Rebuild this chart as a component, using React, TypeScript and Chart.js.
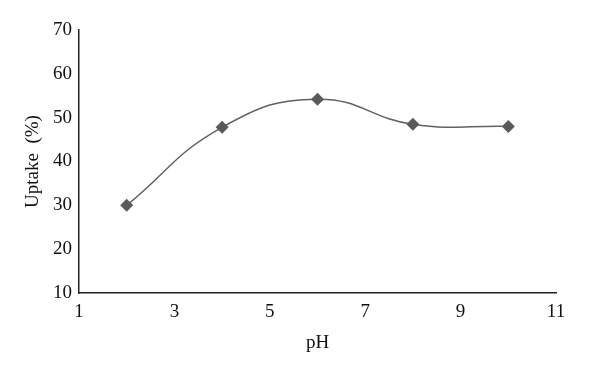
import React, { useEffect, useRef } from "react";
import { Chart, registerables } from "chart.js";

Chart.register(...registerables);

const phValues = [2, 4, 6, 8, 10];
const uptakeValues = [30, 47.8, 54.2, 48.5, 48];
const xTicks = [1, 3, 5, 7, 9, 11];
const yTicks = [10, 20, 30, 40, 50, 60, 70];

export default function App() {
  const ref = useRef<HTMLCanvasElement | null>(null);
  useEffect(() => {
    document.body.style.margin = "0";
    const ctx = ref.current!.getContext("2d")!;
    const font = { family: "'Liberation Serif', 'Times New Roman', serif", size: 19 };
    const chart = new Chart(ctx, {
      type: "scatter",
      data: {
        datasets: [
          {
            data: phValues.map((x, i) => ({ x, y: uptakeValues[i] })),
            showLine: true,
            borderColor: "#616161",
            borderWidth: 1.5,
            tension: 0.45,
            pointStyle: "rectRot",
            pointRadius: 6.5,
            pointHoverRadius: 6.5,
            pointBackgroundColor: "#5a5a5a",
            pointBorderColor: "#5a5a5a",
            pointBorderWidth: 0,
          },
        ],
      },
      options: {
        animation: false,
        responsive: false,
        maintainAspectRatio: false,
        layout: { padding: { top: 30, right: 44, left: 0, bottom: 0 } },
        plugins: { legend: { display: false }, tooltip: { enabled: false } },
        scales: {
          x: {
            type: "linear",
            min: 1,
            max: 11,
            afterBuildTicks: (s: any) => {
              s.ticks = xTicks.map((v) => ({ value: v }));
            },
            afterFit: (s: any) => {
              s.height = 375 - 293;
            },
            grid: { display: false, drawTicks: false },
            border: { display: true, color: "#222", width: 1.5 },
            ticks: { color: "#111", font, padding: 8, maxRotation: 0 },
            title: {
              display: true,
              text: "pH",
              color: "#111",
              font: { ...font, size: 19 },
              padding: { top: 0, bottom: 21 },
            },
          },
          y: {
            type: "linear",
            min: 10,
            max: 70,
            afterBuildTicks: (s: any) => {
              s.ticks = yTicks.map((v) => ({ value: v }));
            },
            afterFit: (s: any) => {
              s.width = 79;
            },
            grid: { display: false, drawTicks: false },
            border: { display: true, color: "#222", width: 1.5 },
            ticks: { color: "#111", font, padding: 7 },
            title: {
              display: true,
              text: "Uptake  (%)",
              color: "#111",
              font: { ...font, size: 19 },
              padding: { top: 22, bottom: 0 },
            },
          },
        },
      },
    });
    return () => chart.destroy();
  }, []);
  return (
    <div style={{ width: 600, height: 375, background: "#fff" }}>
      <canvas ref={ref} width={600} height={375} />
    </div>
  );
}
